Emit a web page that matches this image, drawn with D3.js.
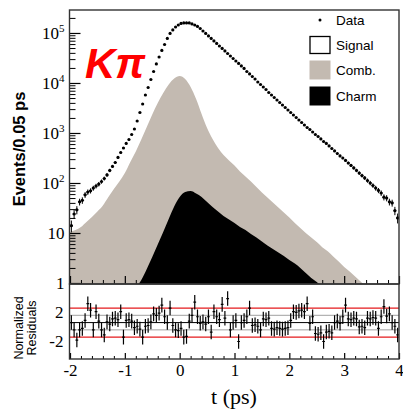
<!DOCTYPE html>
<html>
<head>
<meta charset="utf-8">
<script src="https://cdn.jsdelivr.net/npm/d3@7"></script>
<style>
  html, body { margin: 0; padding: 0; background: #fff; }
  svg { display: block; }
</style>
</head>
<body>
<svg id="chart" width="403" height="413"></svg>
<script>
// ---------------- DATA ----------------
// Data histogram: 120 bins of 0.05 ps from -2 to 4 ps (events per bin)
const dataCounts = [14, 24, 29, 42, 45, 58, 66, 70, 79, 87, 95, 107, 123, 145, 178, 214, 257, 324, 407, 501,
  617, 741, 933, 1202, 1738, 2570, 3802, 5754, 8128, 11750, 16980, 23990, 33110, 44670, 58880, 77620, 97720, 114800, 131800, 144500,
  154900, 158500, 158500, 158500, 151400, 144500, 134900, 123000, 109600, 97720, 87100, 77620, 69180, 61660, 54950, 48980, 43650, 38900, 34670, 30900,
  27540, 24550, 21880, 19500, 16980, 15140, 13490, 12020, 10470, 9333, 8318, 7413, 6457, 5754, 5129, 4571, 4074, 3631, 3236, 2884,
  2570, 2291, 2042, 1820, 1622, 1445, 1288, 1175, 1047, 933, 851, 759, 676, 617, 550, 490, 437, 389, 347, 316,
  282, 251, 224, 200, 178, 158, 141, 126, 112, 100, 89, 79, 71, 63, 52, 50, 42, 40, 28, 20];

// Normalized residuals per bin
const residuals = [0, -1.0, -2.4, -1.0, -0.8, 0.3, 2.6, 1.7, -1.0, 1.5, 0.2, -1.0, -1.7, 0.1, -0.2, 0.5, 0.6, 0.4, 1.5, -2.0,
  0.3, 0.4, 0.2, -0.7, -0.5, -0.9, -2.0, -0.5, -0.4, 0.1, 1.2, 1.0, 1.3, 2.4, 0.8, 0.0, 2.0, -0.4, -1.0, -1.1,
  -0.8, -2.0, -1.9, 0.2, 1.0, 2.8, 0.8, -0.1, 0.1, -0.2, 0.8, -1.3, 1.5, 0.8, 0.4, 2.5, 0.6, 3.3, -1.0, 0.0,
  0.3, -2.6, 0.0, 0.3, 0.8, 2.0, -0.4, -0.3, -0.5, -1.0, 0.5, 0.4, 0.6, -0.8, -0.9, -0.7, -0.8, -0.9, -0.8, -0.7,
  0.3, 1.5, 1.4, 1.6, 1.7, 1.5, 2.6, -0.1, 0.8, -1.5, -1.6, -1.4, -2.6, -1.3, -1.2, -1.4, 0.0, 0.2, -0.1, 0.8,
  2.4, 0.5, 0.4, 0.6, 0.5, -0.6, -0.5, -0.7, 0.6, 0.5, 0.7, 0.6, -0.8, 0.8, 2.2, 0.9, 1.2, 0.0, -0.5, -1.7];

// Model components sampled every 0.1 ps from -2 to 4 ps
const combBkg = [10.5, 11.5, 13.2, 16.6, 20.9, 26.9, 35.5, 52.5, 75.9, 107, 158, 263, 427, 741, 1318, 2344, 3981, 6310, 9333, 12300,
  13800, 12020, 8318, 4786, 2399, 1259, 759, 501, 363, 282, 224, 170, 135, 107, 83.2, 64.6, 51.3, 40.7, 32.4, 25.7,
  20.4, 15.8, 12.6, 10.0, 8.1, 6.6, 5.2, 4.3, 3.4, 2.7, 2.1, 1.7, 1.35, 1.07, 0.85, 0.68, 0.54, 0.43, 0.34, 0.27, 0.21];
const charmBkg = [0.01, 0.01, 0.01, 0.01, 0.01, 0.01, 0.01, 0.01, 0.01, 0.01, 0.01, 0.45, 0.79, 1.15, 1.91, 3.31, 5.89, 10.5, 19.1, 33.9,
  52.5, 66.1, 69.2, 61.7, 52.5, 41.7, 33.1, 26.9, 21.9, 18.6, 15.8, 13.2, 11.5, 9.55, 8.13, 6.76, 5.62, 4.79, 4.07, 3.47,
  2.88, 2.45, 2.0, 1.58, 1.26, 1.05, 0.83, 0.66, 0.5, 0.4, 0.3, 0.01, 0.01, 0.01, 0.01, 0.01, 0.01, 0.01, 0.01, 0.01, 0.01];

const xTickLabels = [-2, -1, 0, 1, 2, 3, 4];
const yMajorTicks = [1, 10, 100, 1000, 10000, 100000];
const resTickLabels = [2, -2];
const legendItems = ["Data", "Signal", "Comb.", "Charm"];

const binWidth = 0.05;
const binCenters = dataCounts.map((_, i) => -2 + binWidth * (i + 0.5));
const modelT = combBkg.map((_, i) => -2 + 0.1 * i);

// ---------------- LAYOUT ----------------
const svg = d3.select("#chart");
const L = 69.5, R = 399, TOP = 10, MID = 284, BOT = 359;
const COMB_COLOR = "#c3bab1";

const x = d3.scaleLinear().domain([-2, 4]).range([70, 399]);
const y = d3.scaleLog().domain([0.955, 288000]).range([MID, TOP]);
const yr = d3.scaleLinear().domain([-5, 5.3]).range([BOT, MID]);

svg.append("rect").attr("width", 403).attr("height", 413).attr("fill", "#fff");

const defs = svg.append("defs");
defs.append("clipPath").attr("id", "clipMain")
  .append("rect").attr("x", L).attr("y", TOP).attr("width", R - L).attr("height", MID - TOP);
defs.append("clipPath").attr("id", "clipRes")
  .append("rect").attr("x", L).attr("y", MID).attr("width", R - L).attr("height", BOT - MID);

// ---------------- MAIN PANEL ----------------
const gMain = svg.append("g").attr("clip-path", "url(#clipMain)");

const area = (vals) => d3.area()
  .x((d, i) => x(modelT[i]))
  .y0(MID + 200)
  .y1(d => y(d))
  .curve(d3.curveMonotoneX)(vals);

gMain.append("path").attr("d", area(combBkg)).attr("fill", COMB_COLOR);
gMain.append("path").attr("d", area(charmBkg)).attr("fill", "#000");

// data points with error bars
const gData = gMain.append("g");
dataCounts.forEach((n, i) => {
  const t = binCenters[i];
  const e = Math.sqrt(n);
  gData.append("line")
    .attr("x1", x(t)).attr("x2", x(t))
    .attr("y1", y(n + e)).attr("y2", y(Math.max(n - e, 0.5)))
    .attr("stroke", "#000").attr("stroke-width", 1);
  if (n < 300) {
    gData.append("line")
      .attr("x1", x(t - binWidth / 2)).attr("x2", x(t + binWidth / 2))
      .attr("y1", y(n)).attr("y2", y(n))
      .attr("stroke", "#000").attr("stroke-width", 1);
  }
  gData.append("circle").attr("cx", x(t)).attr("cy", y(n)).attr("r", 1.6).attr("fill", "#000");
});

// Main y axis (log), ticks inward
const yMinor = [];
for (let p = 0; p <= 5; p++) for (let m = 2; m <= 9; m++) {
  const v = m * Math.pow(10, p);
  if (v <= 288000) yMinor.push(v);
}
svg.append("g").attr("transform", `translate(${L},0)`)
  .call(d3.axisLeft(y).tickValues(yMinor).tickSize(-6).tickFormat(""))
  .call(g => g.select(".domain").remove())
  .selectAll("line").attr("stroke", "#000").attr("stroke-width", 1);

const yAxisG = svg.append("g").attr("transform", `translate(${L},0)`)
  .call(d3.axisLeft(y).tickValues(yMajorTicks).tickSize(-11).tickPadding(5).tickFormat(""));
yAxisG.select(".domain").remove();
yAxisG.selectAll("line").attr("stroke", "#000").attr("stroke-width", 1.2);
yAxisG.selectAll(".tick text").each(function(d) {
  const t = d3.select(this)
    .attr("font-family", "'Liberation Serif', 'Times New Roman', serif")
    .attr("font-size", 17).attr("fill", "#000").attr("text-anchor", "end")
    .attr("dy", "0.35em");
  const p = Math.round(Math.log10(d));
  if (p === 0) t.text("1");
  else if (p === 1) t.text("10");
  else {
    t.text("10");
    t.append("tspan").attr("dy", -7).attr("font-size", 11).text(p);
  }
});

// main bottom axis ticks (inward)
const xMinor = d3.range(-2, 4.001, 0.2).map(v => Math.round(v * 10) / 10).filter(v => !Number.isInteger(v));
svg.append("g").attr("transform", `translate(0,${MID})`)
  .call(d3.axisBottom(x).tickValues(xMinor).tickSize(-4).tickFormat(""))
  .call(g => g.select(".domain").remove())
  .selectAll("line").attr("stroke", "#000");
svg.append("g").attr("transform", `translate(0,${MID})`)
  .call(d3.axisBottom(x).tickValues(xTickLabels).tickSize(-8).tickFormat(""))
  .call(g => g.select(".domain").remove())
  .selectAll("line").attr("stroke", "#000").attr("stroke-width", 1.2);

// frame main
svg.append("rect").attr("x", L).attr("y", TOP).attr("width", R - L).attr("height", MID - TOP)
  .attr("fill", "none").attr("stroke", "#333").attr("stroke-width", 1.4);

// ---------------- RESIDUAL PANEL ----------------
const gRes = svg.append("g").attr("clip-path", "url(#clipRes)");
[[0, "#000", 1], [1, "#a0a0a0", 1], [-1, "#a0a0a0", 1], [2, "#e41a1c", 1.3], [-2, "#e41a1c", 1.3]].forEach(([v, c, w]) => {
  gRes.append("line").attr("x1", L).attr("x2", R).attr("y1", yr(v)).attr("y2", yr(v))
    .attr("stroke", c).attr("stroke-width", w);
});
residuals.forEach((r, i) => {
  const t = binCenters[i];
  gRes.append("line").attr("x1", x(t)).attr("x2", x(t))
    .attr("y1", yr(r + 1)).attr("y2", yr(r - 1))
    .attr("stroke", "#000").attr("stroke-width", 1.2);
  gRes.append("line").attr("x1", x(t - binWidth / 2)).attr("x2", x(t + binWidth / 2))
    .attr("y1", yr(r)).attr("y2", yr(r))
    .attr("stroke", "#000").attr("stroke-width", 1.2);
});

// residual y labels
const resAxis = svg.append("g").attr("transform", `translate(${L},0)`)
  .call(d3.axisLeft(yr).tickValues(resTickLabels).tickSize(0).tickPadding(6).tickFormat(d => String(d)));
resAxis.select(".domain").remove();
resAxis.selectAll("text")
  .attr("font-family", "'Liberation Serif', 'Times New Roman', serif")
  .attr("font-size", 17).attr("fill", "#000").attr("dy", "0.55em");

// bottom x axis
svg.append("g").attr("transform", `translate(0,${BOT})`)
  .call(d3.axisBottom(x).tickValues(xMinor).tickSize(-3).tickFormat(""))
  .call(g => g.select(".domain").remove())
  .selectAll("line").attr("stroke", "#000");
const xAxisG = svg.append("g").attr("transform", `translate(0,${BOT})`)
  .call(d3.axisBottom(x).tickValues(xTickLabels).tickSize(-6).tickPadding(5).tickFormat(d => String(d)));
xAxisG.select(".domain").remove();
xAxisG.selectAll("line").attr("stroke", "#000").attr("stroke-width", 1.2);
xAxisG.selectAll("text")
  .attr("font-family", "'Liberation Serif', 'Times New Roman', serif")
  .attr("font-size", 17).attr("fill", "#000");

svg.append("rect").attr("x", L).attr("y", MID).attr("width", R - L).attr("height", BOT - MID)
  .attr("fill", "none").attr("stroke", "#333").attr("stroke-width", 1.4);

// ---------------- TEXTS ----------------
svg.append("text").attr("x", 234).attr("y", 404).attr("text-anchor", "middle")
  .attr("font-family", "'Liberation Serif', 'Times New Roman', serif").attr("font-size", 22)
  .text("t (ps)");

svg.append("text").attr("transform", "translate(25,149) rotate(-90)").attr("text-anchor", "middle")
  .attr("font-family", "'Liberation Sans', Arial, sans-serif").attr("font-weight", "bold").attr("font-size", 16.5)
  .text("Events/0.05 ps");

const nr = svg.append("text").attr("transform", "translate(23,328) rotate(-90)").attr("text-anchor", "middle")
  .attr("font-family", "'Liberation Sans', Arial, sans-serif").attr("font-size", 12.5);
nr.append("tspan").attr("x", 0).attr("y", 0).text("Normalized");
nr.append("tspan").attr("x", 0).attr("y", 13).text("Residuals");

svg.append("text").attr("x", 85).attr("y", 78)
  .attr("font-family", "'Liberation Sans', Arial, sans-serif").attr("font-weight", "bold")
  .attr("font-style", "italic").attr("font-size", 42).attr("fill", "#ff0000")
  .text("Kπ");

// legend
const lg = svg.append("g").attr("font-family", "'Liberation Sans', Arial, sans-serif").attr("font-size", 13.5);
const legY = [20, 45, 70, 96];
lg.append("circle").attr("cx", 320).attr("cy", legY[0]).attr("r", 1.5).attr("fill", "#000");
lg.append("rect").attr("x", 310).attr("y", legY[1] - 8.5).attr("width", 20).attr("height", 17)
  .attr("fill", "#fff").attr("stroke", "#000").attr("stroke-width", 1.3);
lg.append("rect").attr("x", 309.5).attr("y", legY[2] - 9.5).attr("width", 21).attr("height", 19)
  .attr("fill", COMB_COLOR);
lg.append("rect").attr("x", 309.5).attr("y", legY[3] - 9.5).attr("width", 21).attr("height", 19)
  .attr("fill", "#000");
legendItems.forEach((name, i) => {
  lg.append("text").attr("x", 336).attr("y", legY[i]).attr("dy", "0.35em").text(name);
});
</script>
</body>
</html>
